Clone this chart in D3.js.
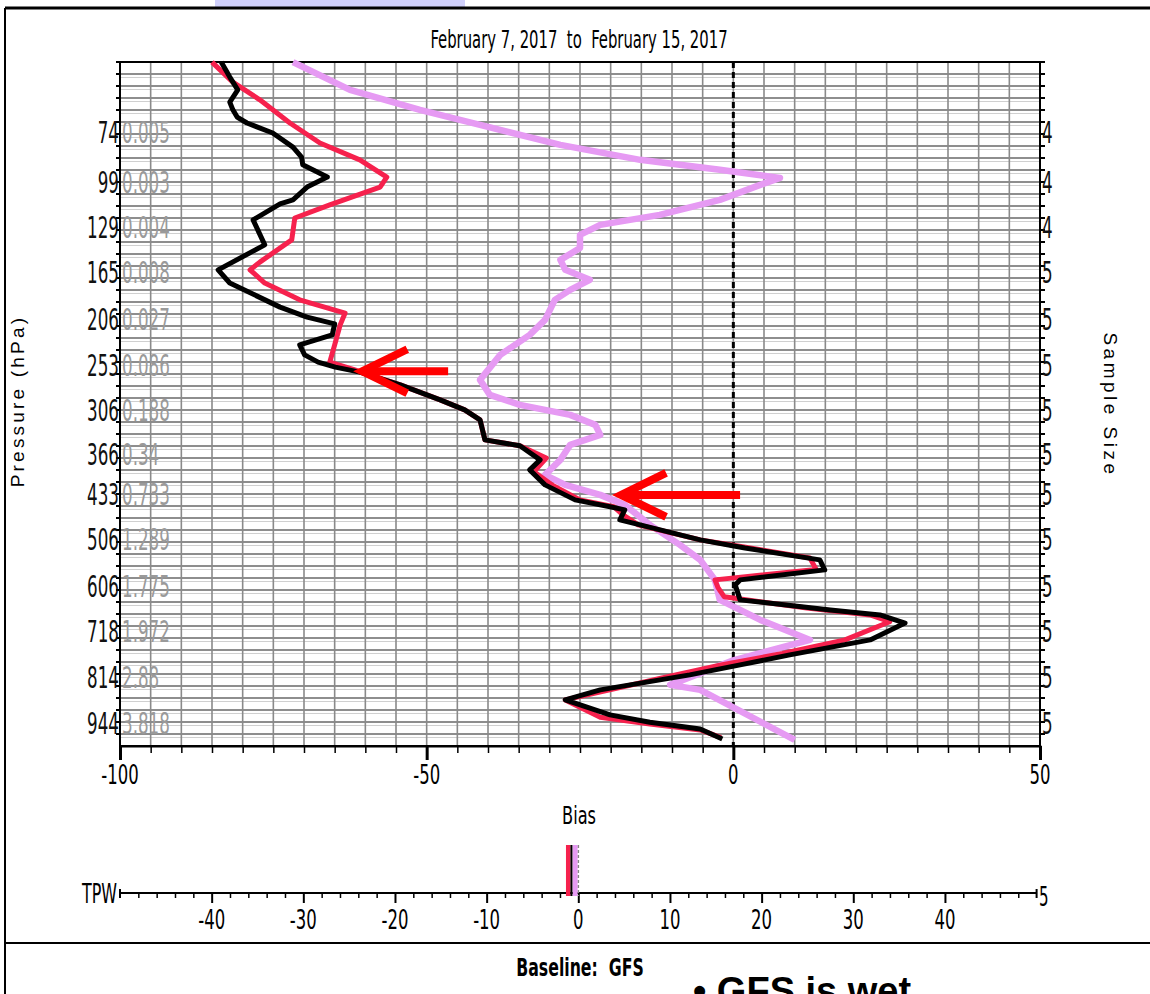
<!DOCTYPE html>
<html>
<head>
<meta charset="utf-8">
<script src="https://cdn.jsdelivr.net/npm/d3@7"></script>
<style>
body { margin: 0; background: #fff; }
svg { display: block; }
.nar { font-family: "Liberation Sans Narrow", "Arial Narrow", "DejaVu Sans Condensed", sans-serif; white-space: pre; }
</style>
</head>
<body>
<div id="chart"></div>
<script>
// Pressure rows on the left axis, with the gray mean values and sample size
var pressures = [74, 99, 129, 165, 206, 253, 306, 366, 433, 506, 606, 718, 814, 944];
var rowLevels = [0, 1.10, 2.09, 3.08, 4.11, 5.13, 6.12, 7.08, 7.96, 8.95, 9.99, 10.98, 11.99, 13.0];
var meanVals = ["0.005", "0.003", "0.004", "0.008", "0.027", "0.086", "0.188", "0.34", "0.733", "1.289", "1.775", "1.972", "2.88", "3.818"];
var sampleSize = [4, 4, 4, 5, 5, 5, 5, 5, 5, 5, 5, 5, 5, 5];

var biasTicks = [-100, -50, 0, 50];
var tpwTicks = [-40, -30, -20, -10, 0, 10, 20, 30, 40];

// Bias profiles, level is in pressure-row units (0 = 74 hPa row)
var blackBias = [-83.5, -82.1, -80.8, -82.1, -81.6, -80.9, -79.3, -75.1, -71.8, -70.4, -70.2, -66.2, -69.5, -71.8, -73.9, -78.3, -76.4, -84.0, -82.1, -73.9, -69.5, -65.0, -65.4, -70.7, -69.9, -67.7, -64.9, -60.9, -54.3, -47.8, -43.8, -41.3, -40.5, -34.8, -31.5, -33.2, -30.7, -25.8, -20.1, -17.7, -18.5, -15.2, -5.4, 1.9, 14.1, 14.9, 1.1, 0.3, 1.1, 15.8, 23.9, 28.0, 22.3, 9.2, 1.1, -7.1, -21.7, -27.4, -20.1, -13.6, -5.4, -1.8];
var blackLev = [-1.56, -1.23, -0.95, -0.68, -0.51, -0.35, -0.22, 0.0, 0.31, 0.53, 0.70, 0.97, 1.19, 1.47, 1.56, 1.91, 2.46, 3.01, 3.30, 3.83, 4.05, 4.20, 4.44, 4.66, 4.88, 5.04, 5.15, 5.26, 5.54, 5.87, 6.09, 6.31, 6.75, 6.88, 7.19, 7.41, 7.74, 8.07, 8.22, 8.29, 8.51, 8.62, 8.95, 9.13, 9.39, 9.61, 9.83, 9.94, 10.27, 10.49, 10.60, 10.78, 11.15, 11.48, 11.70, 11.92, 12.25, 12.47, 12.80, 12.96, 13.11, 13.33];

var redBias = [-85.0, -81.6, -77.2, -72.3, -67.4, -60.9, -56.5, -57.6, -65.8, -71.5, -72.0, -77.2, -78.8, -76.4, -70.7, -63.3, -64.1, -65.0, -65.8, -61.7, -54.3, -47.8, -43.8, -41.3, -40.5, -34.8, -30.5, -32.5, -29.5, -25.0, -19.5, -18.0, -15.5, -5.4, 1.5, 12.5, 13.5, -3.0, -2.5, -1.5, 12.0, 22.3, 25.5, 18.2, 8.0, -2.0, -12.0, -27.4, -21.7, -13.6, -5.4, -2.0];
var redLev = [-1.56, -1.12, -0.73, -0.22, 0.22, 0.59, 0.97, 1.19, 1.58, 1.87, 2.35, 2.84, 3.01, 3.30, 3.67, 3.96, 4.22, 4.66, 5.04, 5.21, 5.54, 5.87, 6.09, 6.31, 6.75, 6.88, 7.15, 7.45, 7.75, 8.07, 8.22, 8.40, 8.62, 8.95, 9.10, 9.35, 9.60, 9.83, 10.0, 10.2, 10.45, 10.6, 10.75, 11.15, 11.45, 11.70, 12.0, 12.47, 12.85, 13.0, 13.13, 13.3];

var violetBias = [-71.8, -62.5, -51.1, -41.3, -28.2, -15.2, -2.2, 7.6, 4.4, -2.2, -12.0, -21.7, -25.0, -25.0, -28.2, -27.4, -23.4, -26.6, -29.1, -30.7, -33.2, -38.0, -41.3, -39.7, -34.8, -26.6, -22.5, -21.7, -26.6, -28.2, -30.7, -27.4, -21.7, -17.7, -13.6, -8.7, -5.4, -3.0, -2.2, 4.4, 12.5, 0.0, -10.3, -5.4, 10.0];
var violetLev = [-1.56, -0.95, -0.51, -0.18, 0.26, 0.59, 0.81, 0.99, 1.14, 1.47, 1.80, 2.02, 2.24, 2.53, 2.79, 3.01, 3.23, 3.45, 3.67, 4.11, 4.44, 4.88, 5.43, 5.76, 5.98, 6.20, 6.42, 6.64, 6.86, 7.19, 7.52, 7.74, 7.96, 8.18, 8.62, 9.06, 9.39, 9.83, 10.27, 10.71, 11.15, 11.6, 12.14, 12.25, 13.35];

// TPW bias for each experiment
var tpwRed = -1.1, tpwBlack = -0.75, tpwViolet = -0.35;

// Annotation arrows: [from bias, to bias, level]
var arrows = [[-46.5, -60.5, 5.24], [1.1, -18.3, 7.96]];

var W = 1150, H = 994;
var svg = d3.select("#chart").append("svg")
    .attr("width", W)
    .attr("height", H);

svg.append("rect").attr("width", W).attr("height", H).attr("fill", "#fff");

// page decoration around the chart
svg.append("rect").attr("x", 215).attr("y", 0).attr("width", 250).attr("height", 7).attr("fill", "#d0d0fb");
svg.append("line").attr("x1", 5).attr("x2", W).attr("y1", 8).attr("y2", 8).attr("stroke", "#000").attr("stroke-width", 3);
svg.append("line").attr("x1", 5).attr("x2", 5).attr("y1", 8).attr("y2", H).attr("stroke", "#000").attr("stroke-width", 2);
svg.append("line").attr("x1", 5).attr("x2", W).attr("y1", 943).attr("y2", 943).attr("stroke", "#000").attr("stroke-width", 2);

var pL = 120, pR = 1040, pT = 62, pB = 746;

var x = d3.scaleLinear().domain([-100, 50]).range([pL, pR]);
var y = d3.scaleLinear().domain([-1.562, 13.484]).range([pT, pB]);

function narrowText(g, tx, ty, size, sx, txt) {
    return g.append("text")
        .attr("class", "nar")
        .attr("transform", "translate(" + tx + "," + ty + ") scale(" + sx + ",1)")
        .attr("font-size", size)
        .text(txt);
}

// Title
narrowText(svg, 579, 48, 25, 0.66, "February 7, 2017  to  February 15, 2017").attr("text-anchor", "middle");

// Horizontal grid lines (doubled look)
var nGrid = 57;
var gridY = d3.range(1, nGrid).map(function(k) { return pT + k * (pB - pT) / nGrid; });
var grid = svg.append("g");
grid.selectAll(".hg").data(gridY).enter().append("line")
    .attr("x1", pL).attr("x2", pR)
    .attr("y1", function(d) { return d; }).attr("y2", function(d) { return d; })
    .attr("stroke", "#8e8e8e").attr("stroke-width", 1.8);
grid.selectAll(".hg2").data(gridY).enter().append("line")
    .attr("x1", pL).attr("x2", pR)
    .attr("y1", function(d) { return d + 3.5; }).attr("y2", function(d) { return d + 3.5; })
    .attr("stroke", "#d0d0d0").attr("stroke-width", 1.2);

// Vertical grid lines every 5
grid.selectAll(".vg").data(d3.range(-95, 50, 5)).enter().append("line")
    .attr("x1", function(d) { return x(d); }).attr("x2", function(d) { return x(d); })
    .attr("y1", pT).attr("y2", pB)
    .attr("stroke", "#8a8a8a").attr("stroke-width", 1.6);

// zero line
svg.append("line")
    .attr("x1", x(0)).attr("x2", x(0))
    .attr("y1", pT).attr("y2", pB)
    .attr("stroke", "#000").attr("stroke-width", 3)
    .attr("stroke-dasharray", "6,4");

// left and right tick marks at every grid line
var allTicks = [pT].concat(gridY);
svg.selectAll(".lt").data(allTicks).enter().append("line")
    .attr("x1", pL - 4).attr("x2", pL)
    .attr("y1", function(d) { return d; }).attr("y2", function(d) { return d; })
    .attr("stroke", "#000").attr("stroke-width", 2);
svg.selectAll(".rt").data(allTicks).enter().append("line")
    .attr("x1", pR).attr("x2", pR + 5)
    .attr("y1", function(d) { return d; }).attr("y2", function(d) { return d; })
    .attr("stroke", "#000").attr("stroke-width", 2);

// Plot frame
svg.append("rect")
    .attr("x", pL).attr("y", pT)
    .attr("width", pR - pL).attr("height", pB - pT)
    .attr("fill", "none").attr("stroke", "#000").attr("stroke-width", 2);

// bottom axis
var xAxis = d3.axisBottom(x)
    .tickValues(d3.range(-100, 51, 5))
    .tickSize(6)
    .tickFormat("");
var xg = svg.append("g").attr("transform", "translate(0," + pB + ")").call(xAxis);
xg.select(".domain").attr("stroke-width", 2);
xg.selectAll(".tick line")
    .attr("y2", function(d) { return biasTicks.indexOf(d) >= 0 ? 14 : 7; })
    .attr("stroke-width", function(d) { return biasTicks.indexOf(d) >= 0 ? 3 : 1.5; });
biasTicks.forEach(function(t) {
    narrowText(svg, x(t), 784, 27, 0.68, t).attr("text-anchor", "middle");
});
narrowText(svg, 579, 824, 25, 0.72, "Bias").attr("text-anchor", "middle");

// left labels: pressure and mean value, right labels: sample size
pressures.forEach(function(p, i) {
    var yy = y(rowLevels[i]) + 10;
    narrowText(svg, pL - 1, yy, 30, 0.62, p).attr("text-anchor", "end").attr("fill", "#111");
    narrowText(svg, pL + 2, yy, 30, 0.62, meanVals[i]).attr("fill", "#9a9a9a");
    narrowText(svg, pR + 2, yy, 30, 0.62, sampleSize[i]).attr("fill", "#111");
});

// axis titles
svg.append("text")
    .attr("transform", "translate(24,401) rotate(-90)")
    .attr("text-anchor", "middle")
    .attr("font-family", "Liberation Sans, Arial, sans-serif")
    .attr("font-size", 19)
    .attr("letter-spacing", 3.2)
    .text("Pressure (hPa)");
svg.append("text")
    .attr("transform", "translate(1104,405) rotate(90)")
    .attr("text-anchor", "middle")
    .attr("font-family", "Liberation Sans, Arial, sans-serif")
    .attr("font-size", 19)
    .attr("letter-spacing", 3.5)
    .text("Sample Size");

// profiles
function profile(bias, lev) {
    return bias.map(function(b, i) { return [b, lev[i]]; });
}
var line = d3.line()
    .x(function(d) { return x(d[0]); })
    .y(function(d) { return y(d[1]); });

var plot = svg.append("g");
plot.append("path").datum(profile(violetBias, violetLev))
    .attr("d", line.curve(d3.curveLinear)).attr("fill", "none")
    .attr("stroke", "#e69af3").attr("stroke-width", 6.5).attr("stroke-linejoin", "round");
plot.append("path").datum(profile(redBias, redLev))
    .attr("d", line).attr("fill", "none")
    .attr("stroke", "#f6214d").attr("stroke-width", 5).attr("stroke-linejoin", "round");
plot.append("path").datum(profile(blackBias, blackLev))
    .attr("d", line).attr("fill", "none")
    .attr("stroke", "#000").attr("stroke-width", 5).attr("stroke-linejoin", "round");

// red annotation arrows
arrows.forEach(function(a) {
    var x0 = x(a[0]), x1 = x(a[1]), yy = y(a[2]);
    var g = svg.append("g").attr("stroke", "#ff0000").attr("stroke-width", 8).attr("fill", "none");
    g.append("line").attr("x1", x0).attr("x2", x1 + 4).attr("y1", yy).attr("y2", yy);
    g.append("path").attr("d", "M" + (x1 + 45) + "," + (yy - 22) + "L" + x1 + "," + yy + "L" + (x1 + 45) + "," + (yy + 22))
        .attr("stroke-linejoin", "miter");
});

// TPW strip
var tx = d3.scaleLinear().domain([-50, 50]).range([120, 1036.6]);
var tpwY = 893;
var tAxis = d3.axisBottom(tx)
    .tickValues(d3.range(-48, 50, 2))
    .tickSize(5)
    .tickFormat("");
var tg = svg.append("g").attr("transform", "translate(0," + tpwY + ")").call(tAxis);
tg.select(".domain").remove();
tg.selectAll(".tick line")
    .attr("y2", function(d) { return tpwTicks.indexOf(d) >= 0 ? 10 : 5; })
    .attr("stroke-width", function(d) { return tpwTicks.indexOf(d) >= 0 ? 2 : 1.5; });
svg.append("line").attr("x1", tx(-50)).attr("x2", tx(50)).attr("y1", tpwY).attr("y2", tpwY)
    .attr("stroke", "#000").attr("stroke-width", 2);
svg.append("line").attr("x1", tx(-50)).attr("x2", tx(-50)).attr("y1", tpwY - 4).attr("y2", tpwY + 5)
    .attr("stroke", "#000").attr("stroke-width", 2);
svg.append("line").attr("x1", tx(50)).attr("x2", tx(50)).attr("y1", tpwY - 4).attr("y2", tpwY + 5)
    .attr("stroke", "#000").attr("stroke-width", 2);
tpwTicks.forEach(function(t) {
    narrowText(svg, tx(t), 929, 27, 0.68, t).attr("text-anchor", "middle");
});
narrowText(svg, 117, 903, 26, 0.68, "TPW").attr("text-anchor", "end");
narrowText(svg, 1039, 906, 27, 0.62, "5");

svg.append("line").attr("x1", tx(0)).attr("x2", tx(0)).attr("y1", 845).attr("y2", 896)
    .attr("stroke", "#888").attr("stroke-width", 1.6).attr("stroke-dasharray", "3,2");
svg.append("line").attr("x1", tx(tpwViolet)).attr("x2", tx(tpwViolet)).attr("y1", 845).attr("y2", 896)
    .attr("stroke", "#e69af3").attr("stroke-width", 5);
svg.append("line").attr("x1", tx(tpwRed)).attr("x2", tx(tpwRed)).attr("y1", 845).attr("y2", 896)
    .attr("stroke", "#f6214d").attr("stroke-width", 4.5);
svg.append("line").attr("x1", tx(tpwBlack)).attr("x2", tx(tpwBlack)).attr("y1", 845).attr("y2", 896)
    .attr("stroke", "#000").attr("stroke-width", 2);

// footer
narrowText(svg, 580, 976, 25, 0.7, "Baseline:  GFS").attr("text-anchor", "middle").attr("font-weight", "bold");
svg.append("text")
    .attr("x", 693).attr("y", 1004)
    .attr("font-family", "Liberation Sans, Arial, sans-serif")
    .attr("font-weight", "bold")
    .attr("font-size", 38)
    .text("\u2022 GFS is wet");
</script>
</body>
</html>
